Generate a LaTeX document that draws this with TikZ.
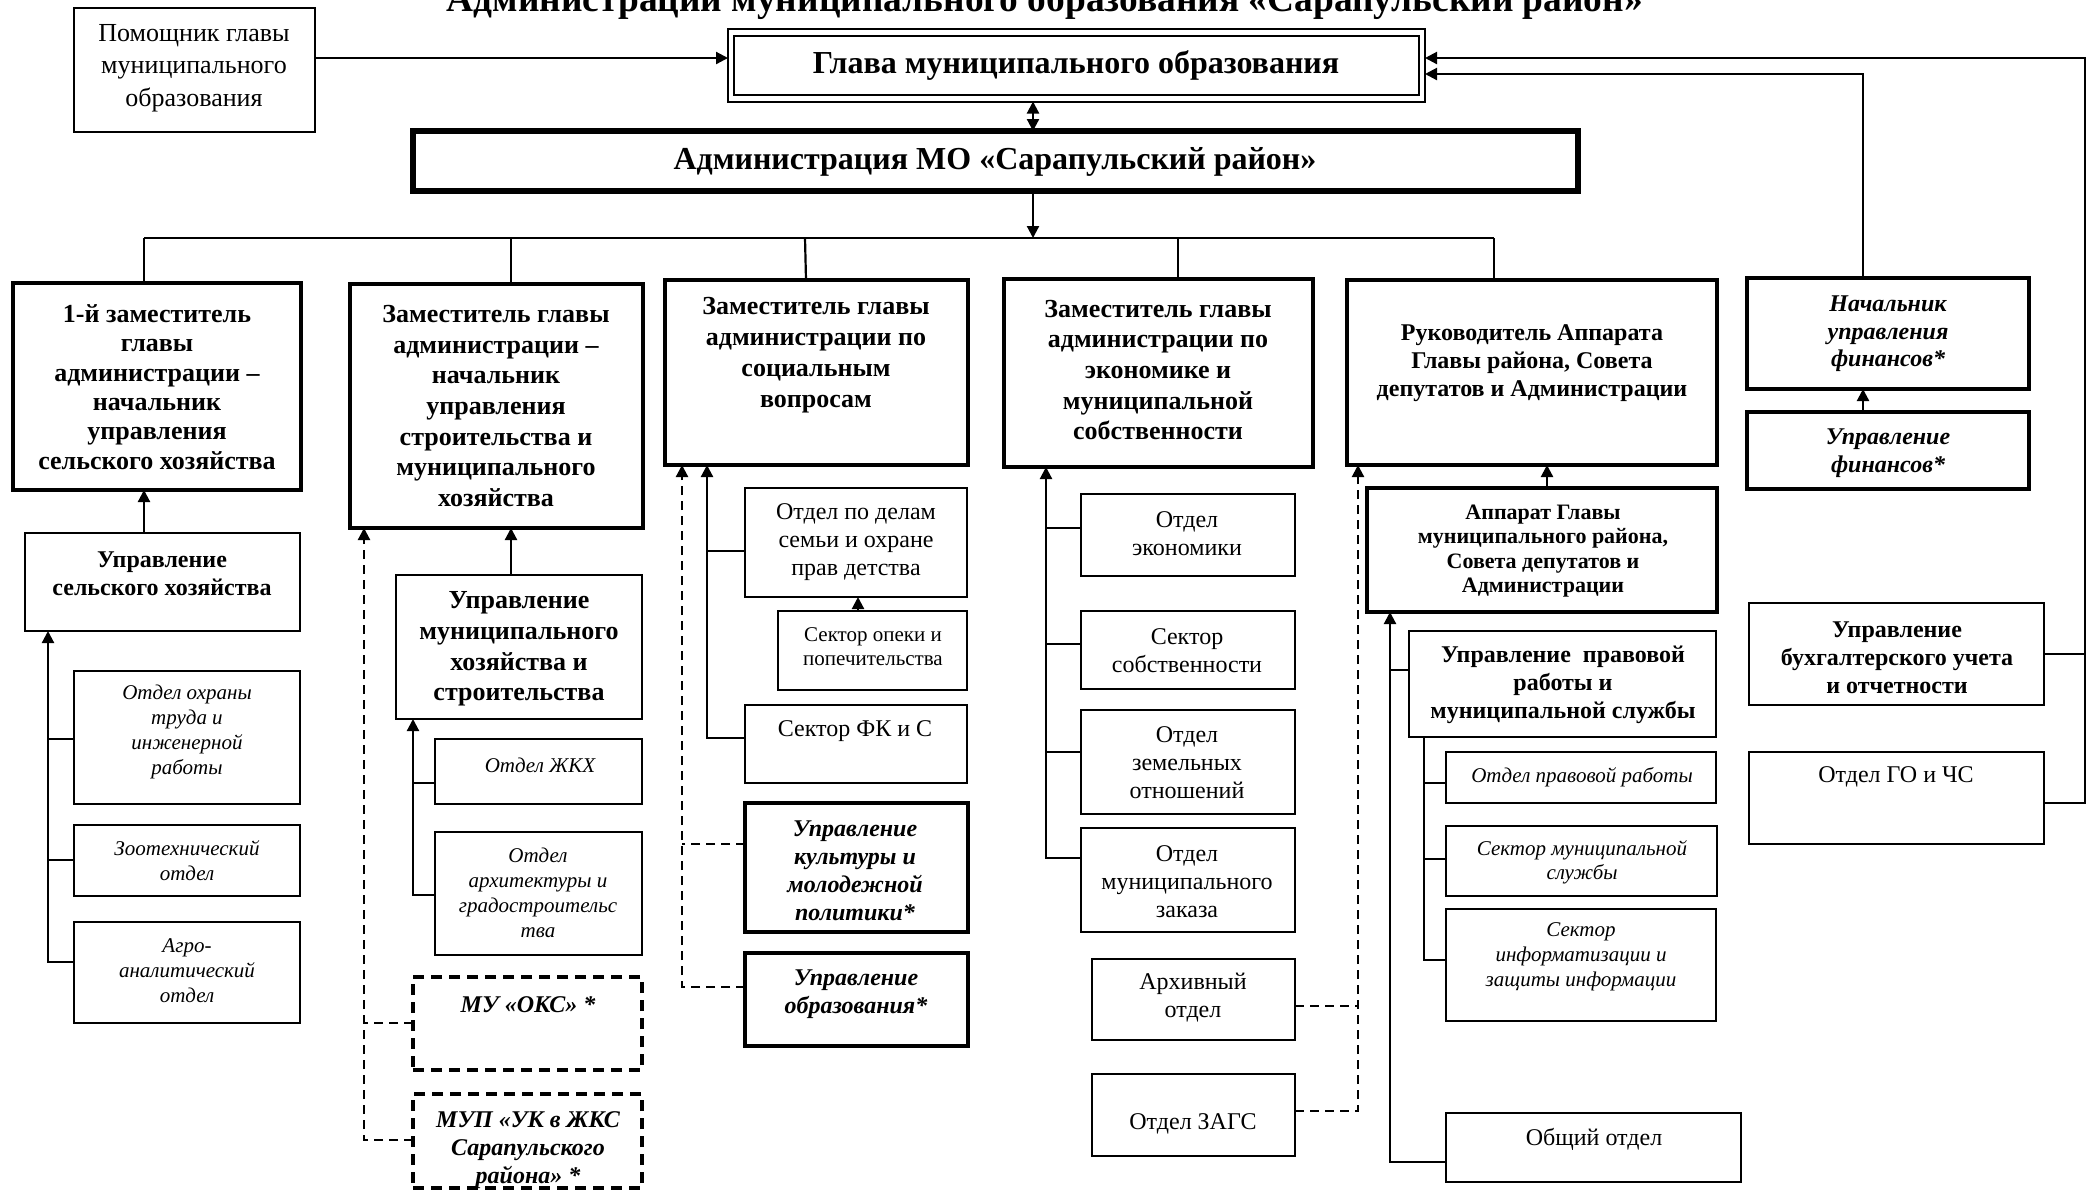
\documentclass[tikz,border=0pt]{standalone}
\usepackage{fontspec}
\setmainfont{Liberation Serif}
\usetikzlibrary{arrows.meta}
\newcommand\bx[6]{\node[#2, minimum width={(#5-#3)*0.5pt}, minimum height={(#6-#4)*0.5pt}] (#1) at ({(#3+#5)/2},{(#4+#6)/2}) {};}
\newcommand\fs[2]{\fontsize{#1}{#2}\selectfont}
\tikzset{
  x=0.5pt, y=-0.5pt,
  bxs/.style={draw, line width=1pt, inner sep=0pt, outer sep=0pt},
  bxm/.style={bxs, line width=1.4pt},
  bxt/.style={bxs, line width=2pt},
  bxa/.style={bxs, line width=2.8pt},
  bxd/.style={bxs, line width=1.6pt, dash pattern=on 5.5pt off 3.5pt},
  gl/.style={draw, line width=1pt, double distance=2.4pt, inner sep=0pt, outer sep=0pt},
  tx/.style={align=center, inner sep=0pt},
  ln/.style={line width=1.1pt},
  arr/.style={ln, -{Triangle[length=6pt,width=6pt]}},
  dln/.style={ln, dash pattern=on 4.5pt off 3pt},
  darr/.style={dln, -{Triangle[length=6pt,width=6pt]}},
}
\begin{document}
\begin{tikzpicture}
\useasboundingbox (0,0) rectangle (2087,1196);
% title
\node[font=\fs{18.7}{20}\bfseries, anchor=base, inner sep=0pt] (title) at (1045,11) {Администрации муниципального образования «Сарапульский район»};
% top
\bx{pom}{bxm}{74}{8}{315}{132}
\node[tx,font=\fs{13}{16.25}] (pomt) at (194,68) {Помощник главы\\муниципального\\образования};
\bx{glava}{gl}{731}{32.5}{1422}{98.5}
\node[tx,font=\fs{16}{18}\bfseries] (glavat) at (1076,65) {Глава муниципального образования};
\bx{admin}{bxa}{413}{131}{1578}{191}
\node[tx,font=\fs{16}{18}\bfseries] (admint) at (995,162) {Администрация МО «Сарапульский район»};
% level 1
\bx{b1}{bxt}{13}{283}{301}{490}
\node[tx,font=\fs{13}{14.7}\bfseries] (b1t) at (157,387) {1-й заместитель\\главы\\администрации –\\начальник\\управления\\сельского хозяйства};
\bx{b2}{bxt}{350}{284}{643}{528}
\node[tx,font=\fs{13}{15.3}\bfseries] (b2t) at (496,406) {Заместитель главы\\администрации –\\начальник\\управления\\строительства и\\муниципального\\хозяйства};
\bx{b3}{bxt}{665}{280}{968}{465}
\node[tx,font=\fs{13}{15.5}\bfseries] (b3t) at (816,355) {Заместитель главы\\администрации по\\социальным\\вопросам};
\bx{b4}{bxt}{1004}{279}{1313}{467}
\node[tx,font=\fs{13}{15.3}\bfseries] (b4t) at (1158,370) {Заместитель главы\\администрации по\\экономике и\\муниципальной\\собственности};
\bx{b5}{bxt}{1347}{280}{1717}{465}
\node[tx,font=\fs{12}{14}\bfseries] (b5t) at (1532,363) {Руководитель Аппарата\\Главы района, Совета\\депутатов и Администрации};
\bx{fin1}{bxt}{1747}{278}{2029}{389}
\node[tx,font=\fs{12}{13.7}\bfseries\itshape] (fin1t) at (1888,334) {Начальник\\управления\\финансов*};
\bx{fin2}{bxt}{1747}{412}{2029}{489}
\node[tx,font=\fs{12}{13.7}\bfseries\itshape] (fin2t) at (1888,453) {Управление\\финансов*};
% column 1
\bx{sh}{bxs}{25}{533}{300}{631}
\node[tx,font=\fs{12}{14}\bfseries] (sht) at (162,574) {Управление\\сельского хозяйства};
\bx{sh1}{bxs}{74}{671}{300}{804}
\node[tx,font=\fs{10.5}{12.5}\itshape] (sh1t) at (187,732) {Отдел охраны\\труда и\\инженерной\\работы};
\bx{sh2}{bxs}{74}{825}{300}{896}
\node[tx,font=\fs{10.5}{12.5}\itshape] (sh2t) at (187,861) {Зоотехнический\\отдел};
\bx{sh3}{bxs}{74}{922}{300}{1023}
\node[tx,font=\fs{10.5}{12.5}\itshape] (sh3t) at (187,971) {Агро-\\аналитический\\отдел};
% column 2
\bx{mk}{bxs}{396}{575}{642}{719}
\node[tx,font=\fs{13}{15.3}\bfseries] (mkt) at (519,649) {Управление\\муниципального\\хозяйства и\\строительства};
\bx{mk1}{bxs}{435}{739}{642}{804}
\node[tx,font=\fs{10.5}{12.5}\itshape] (mk1t) at (540,765) {Отдел ЖКХ};
\bx{mk2}{bxs}{435}{832}{642}{955}
\node[tx,font=\fs{10.5}{12.5}\itshape] (mk2t) at (538,893) {Отдел\\архитектуры и\\градостроительс\\тва};
\bx{oks}{bxd}{413}{977}{642}{1070}
\node[tx,font=\fs{12}{14}\bfseries\itshape] (okst) at (528,1005) {МУ «ОКС» *};
\bx{mup}{bxd}{413}{1094}{642}{1188}
\node[tx,font=\fs{12}{14}\bfseries\itshape] (mupt) at (528,1150) {МУП «УК в ЖКС\\Сарапульского\\района» *};
% column 3
\bx{sd}{bxs}{745}{488}{967}{597}
\node[tx,font=\fs{12}{14.2}] (sdt) at (856,542) {Отдел по делам\\семьи и охране\\прав детства};
\bx{so}{bxs}{778}{611}{967}{690}
\node[tx,font=\fs{10.5}{12}] (sot) at (873,647) {Сектор опеки и\\попечительства};
\bx{fk}{bxs}{745}{705}{967}{783}
\node[tx,font=\fs{12}{14}] (fkt) at (855,731) {Сектор ФК и С};
\bx{ku}{bxt}{745}{803}{968}{932}
\node[tx,font=\fs{12}{14}\bfseries\itshape] (kut) at (855,871) {Управление\\культуры и\\молодежной\\политики*};
\bx{ob}{bxt}{745}{953}{968}{1046}
\node[tx,font=\fs{12}{14}\bfseries\itshape] (obt) at (856,994) {Управление\\образования*};
% column 4
\bx{ek}{bxs}{1081}{494}{1295}{576}
\node[tx,font=\fs{12}{14}] (ekt) at (1187,534) {Отдел\\экономики};
\bx{ss}{bxs}{1081}{611}{1295}{689}
\node[tx,font=\fs{12}{14}] (sst) at (1187,651) {Сектор\\собственности};
\bx{ze}{bxs}{1081}{710}{1295}{814}
\node[tx,font=\fs{12}{14}] (zet) at (1187,763) {Отдел\\земельных\\отношений};
\bx{mz}{bxs}{1081}{828}{1295}{932}
\node[tx,font=\fs{12}{14}] (mzt) at (1187,882) {Отдел\\муниципального\\заказа};
\bx{ar}{bxs}{1092}{959}{1295}{1040}
\node[tx,font=\fs{12}{14}] (art) at (1193,998) {Архивный\\отдел};
\bx{zg}{bxs}{1092}{1074}{1295}{1156}
\node[tx,font=\fs{12}{14}] (zgt) at (1193,1124) {Отдел ЗАГС};
% column 5
\bx{ap}{bxt}{1367}{488}{1717}{612}
\node[tx,font=\fs{11}{12.3}\bfseries] (apt) at (1543,551) {Аппарат Главы\\муниципального района,\\Совета депутатов и\\Администрации};
\bx{pr}{bxm}{1409}{631}{1716}{737}
\node[tx,font=\fs{12}{14}\bfseries] (prt) at (1563,685) {Управление\ \ правовой\\работы и\\муниципальной службы};
\bx{pr1}{bxs}{1446}{752}{1716}{803}
\node[tx,font=\fs{10.5}{12.5}\itshape] (pr1t) at (1582,777) {Отдел правовой работы};
\bx{pr2}{bxs}{1446}{826}{1717}{896}
\node[tx,font=\fs{10.5}{12.2}\itshape] (pr2t) at (1582,862) {Сектор муниципальной\\службы};
\bx{pr3}{bxs}{1446}{909}{1716}{1021}
\node[tx,font=\fs{10.5}{12.5}\itshape] (pr3t) at (1581,957) {Сектор\\информатизации и\\защиты информации};
\bx{oo}{bxs}{1446}{1113}{1741}{1182}
\node[tx,font=\fs{12}{14}] (oot) at (1594,1139) {Общий отдел};
% column 6
\bx{bu}{bxm}{1749}{603}{2044}{705}
\node[tx,font=\fs{12}{14}\bfseries] (but) at (1897,658) {Управление\\бухгалтерского учета\\и отчетности};
\bx{go}{bxm}{1749}{752}{2044}{844}
\node[tx,font=\fs{12}{14}] (got) at (1896,777) {Отдел ГО и ЧС};

% ---- connectors ----
\coordinate (bus) at (1033,238);
\draw[arr, shorten >=1.5pt] (pom.east |- 0,58) -- (glava.west |- 0,58);
\draw[ln, {Triangle[length=6pt,width=6pt]}-{Triangle[length=6pt,width=6pt]}, shorten <=1.5pt] (glava.south -| bus) -- (admin.north -| bus);
\draw[arr] (admin.south -| bus) -- (bus);
\draw[ln] (144,238) -- (1494,238);
\draw[ln] (b1.north -| 144,0) -- ++(0,-45);
\draw[ln] (b2.north -| 511,0) -- ++(0,-46);
\draw[ln] (b3.north -| 806,0) -- (805,238);
\draw[ln] (b4.north -| 1178,0) -- ++(0,-41);
\draw[ln] (b5.north -| 1494,0) -- ++(0,-42);
% right side
\draw[arr, shorten >=1.5pt] (go.east |- 0,803) -| (2085,58) -- (glava.east |- 0,58);
\draw[ln] (bu.east |- 0,654) -- (2085,654);
\draw[arr, shorten >=1.5pt] (fin1.north -| 1863,0) |- (glava.east |- 0,74);
\draw[arr] (fin2.north -| 1863,0) -- (fin1.south -| 1863,0);
% column 1
\draw[arr] (sh.north -| 144,0) -- (b1.south -| 144,0);
\draw[arr] (sh3.west |- 0,962) -| (sh.south -| 48,0);
\draw[ln] (sh1.west |- 0,739) -- ++(-26,0);
\draw[ln] (sh2.west |- 0,860) -- ++(-26,0);
% column 2
\draw[arr] (mk.north -| 511,0) -- (b2.south -| 511,0);
\draw[darr] (mup.west |- 0,1140) -| (b2.south -| 364,0);
\draw[dln] (oks.west |- 0,1023) -- ++(-49,0);
\draw[arr] (mk2.west |- 0,895) -| (mk.south -| 413,0);
\draw[ln] (mk1.west |- 0,783) -- ++(-22,0);
% column 3
\draw[arr] (fk.west |- 0,738) -| (b3.south -| 707,0);
\draw[ln] (sd.west |- 0,551) -- ++(-38,0);
\draw[arr] (so.north -| 858,0) -- (sd.south -| 858,0);
\draw[darr] (ob.west |- 0,987) -| (b3.south -| 682,0);
\draw[dln] (ku.west |- 0,844) -- ++(-63,0);
% column 4
\draw[arr] (mz.west |- 0,858) -| (b4.south -| 1046,0);
\draw[ln] (ek.west |- 0,528) -- ++(-35,0);
\draw[ln] (ss.west |- 0,644) -- ++(-35,0);
\draw[ln] (ze.west |- 0,752) -- ++(-35,0);
% column 5
\draw[arr] (ap.north -| 1547,0) -- (b5.south -| 1547,0);
\draw[darr] (zg.east |- 0,1111) -| (b5.south -| 1358,0);
\draw[dln] (ar.east |- 0,1006) -- ++(63,0);
\draw[arr] (oo.west |- 0,1162) -| (ap.south -| 1390,0);
\draw[ln] (pr.west |- 0,670) -- ++(-19,0);
\draw[ln] (pr3.west |- 0,960) -| (pr.south -| 1424,0);
\draw[ln] (pr1.west |- 0,783) -- ++(-22,0);
\draw[ln] (pr2.west |- 0,859) -- ++(-22,0);
\end{tikzpicture}
\end{document}
